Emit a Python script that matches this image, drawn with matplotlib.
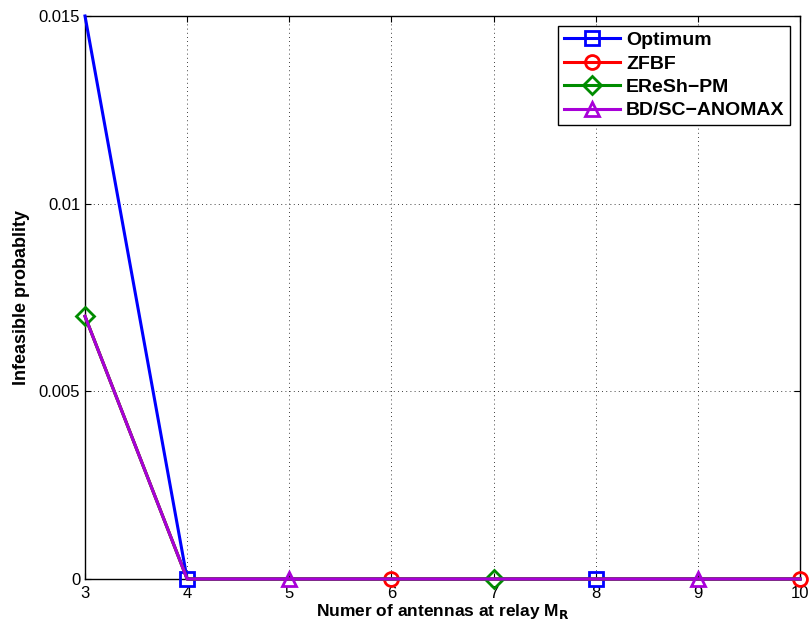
import numpy as np
import matplotlib.pyplot as plt

# antennas at relay and infeasible probability per scheme
antennas = [3, 4, 5, 6, 7, 8, 9, 10]
optimum = [0.015, 0, 0, 0, 0, 0, 0, 0]
zfbf = [0.007, 0, 0, 0, 0, 0, 0, 0]
ereshpm = [0.007, 0, 0, 0, 0, 0, 0, 0]
bdsc = [0.007, 0, 0, 0, 0, 0, 0, 0]

plt.rcParams['font.family'] = ['Liberation Sans', 'DejaVu Sans']

fig = plt.figure(figsize=(8.09, 6.31), dpi=100)
ax = fig.add_axes([85 / 809, 1 - 579 / 631, 715 / 809, 563 / 631])

styles = [
    (optimum, 'Optimum', '#0000ff', 's', 1),
    (zfbf, 'ZFBF', '#ff0000', 'o', 3),
    (ereshpm, 'EReSh\u2212PM', '#008c00', 'D', 0),
    (bdsc, 'BD/SC\u2212ANOMAX', '#a800d8', '^', 2),
]
for vals, name, col, mk, start in styles:
    ms = 9 if mk == 'D' else 10
    ax.plot(antennas, vals, color=col, lw=2.2, marker=mk, markersize=ms,
            markerfacecolor='none', markeredgewidth=2,
            markevery=(start, 4), label=name, clip_on=False, zorder=3)

ax.set_xlim(3, 10)
ax.set_ylim(0, 0.015)
ax.set_xticks(antennas)
ax.set_yticks([0, 0.005, 0.01, 0.015])
ax.set_yticklabels(['0', '0.005', '0.01', '0.015'])
ax.tick_params(direction='in', top=True, right=True, labelsize=12, length=4)
ax.tick_params(axis='x', pad=5)
ax.grid(True, color='black', linestyle=(0, (1, 4)), linewidth=0.6)
for s in ax.spines.values():
    s.set_linewidth(1)

ax.set_xlabel('Numer of antennas at relay M$_\\mathbf{R}$', fontsize=12.5,
              fontweight='bold', labelpad=1)
ax.set_ylabel('Infeasible probablity', fontsize=13, fontweight='bold',
              labelpad=6)

leg = ax.legend(loc='upper right', prop={'weight': 'bold', 'size': 14},
                fancybox=False, edgecolor='black', framealpha=1,
                borderpad=0.3, labelspacing=0.3, handlelength=2.9,
                handletextpad=0.3, borderaxespad=0.5)
leg.get_frame().set_linewidth(1)

fig.savefig('out.png', dpi=100)
